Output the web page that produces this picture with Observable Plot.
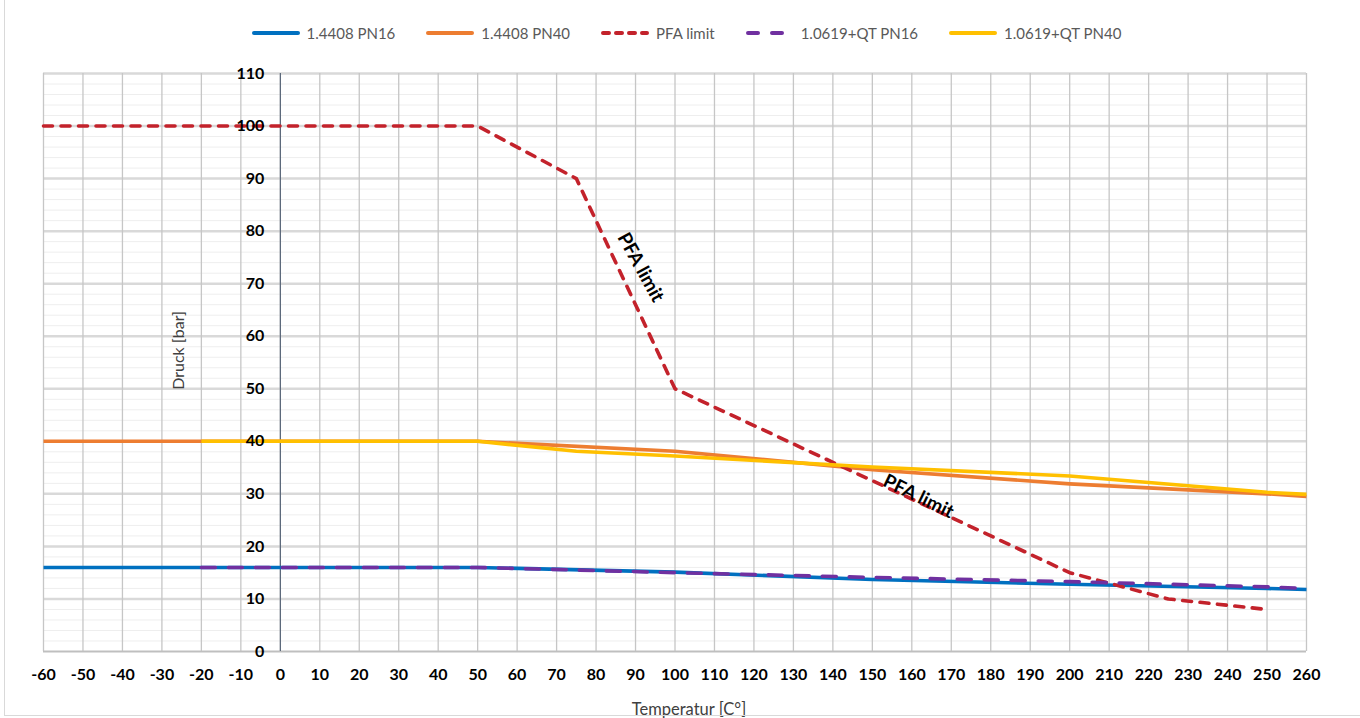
<!DOCTYPE html>
<html>
<head>
<meta charset="utf-8">
<script src="https://cdn.jsdelivr.net/npm/d3@7"></script>
<script src="https://cdn.jsdelivr.net/npm/@observablehq/plot@0.6"></script>
<style>
  html, body { margin: 0; padding: 0; background: #fff; }
  body { width: 1360px; height: 718px; overflow: hidden; position: relative; font-family: Lato, "Open Sans", sans-serif; }
  #frame { position: absolute; left: 4px; top: -2px; width: 1360px; height: 718px; border: 1px solid #d9d9d9; box-sizing: border-box; pointer-events: none; }
  #legend { height: 60px; display: flex; justify-content: center; align-items: center; padding-left: 12px; padding-top: 6px; box-sizing: border-box; }
  .item { display: flex; align-items: center; margin: 0 15px; color: #595959; font-size: 15px; }
  .item svg { margin-right: 6px; }
  #chart svg text { font-family: Lato, sans-serif; }
  #chart [aria-label="x-axis tick label"] text { font-weight: bold; }
</style>
</head>
<body>
<div id="frame"></div>
<div id="legend"></div>
<div id="chart"></div>
<script>
// ---- data ----
const xTicks = [-60,-50,-40,-30,-20,-10,0,10,20,30,40,50,60,70,80,90,100,110,120,130,140,150,160,170,180,190,200,210,220,230,240,250,260];
const yTicks = [0,10,20,30,40,50,60,70,80,90,100,110];
const yMinorTicks = d3.range(0, 111, 2);

const pn16_14408_T = [-60, 50, 100, 150, 200, 250, 260];
const pn16_14408_P = [16, 16, 15.1, 13.7, 12.8, 12.0, 11.8];

const pn40_14408_T = [-60, 50, 100, 150, 200, 250, 260];
const pn40_14408_P = [40, 40, 38.1, 34.6, 31.9, 30.0, 29.5];

const pfa_T = [-60, 50, 75, 100, 200, 225, 250];
const pfa_P = [100, 100, 90, 50, 15, 10, 8];

const pn16_10619_T = [-20, 50, 100, 150, 200, 250, 260];
const pn16_10619_P = [16, 16, 15.0, 14.1, 13.3, 12.3, 12.0];

const pn40_10619_T = [-20, 50, 75, 100, 150, 200, 250, 260];
const pn40_10619_P = [40, 40, 38.1, 37.2, 35.1, 33.4, 30.3, 29.9];

const seriesNames = ["1.4408 PN16", "1.4408 PN40", "PFA limit", "1.0619+QT PN16", "1.0619+QT PN40"];
const seriesColors = ["#0070c0", "#ed7d31", "#c3222b", "#7030a0", "#ffc000"];
const seriesDash = [null, null, "9,8.5", "14,13", null];

const pfaLabelText = ["PFA limit", "PFA limit"];
const pfaLabelT = [91.3, 161.7];
const pfaLabelP = [73.1, 29.5];
const pfaLabelAngle = [61, 26];

// ---- build ----
const zip = (T, P) => T.map((t, i) => ({t, p: P[i]}));
const series = [
  zip(pn16_14408_T, pn16_14408_P),
  zip(pn40_14408_T, pn40_14408_P),
  zip(pfa_T, pfa_P),
  zip(pn16_10619_T, pn16_10619_P),
  zip(pn40_10619_T, pn40_10619_P)
];
const pfaLabels = pfaLabelText.map((s, i) => ({s, t: pfaLabelT[i], p: pfaLabelP[i], a: pfaLabelAngle[i]}));

// legend
const legend = document.getElementById("legend");
seriesNames.forEach((name, i) => {
  const it = document.createElement("div");
  it.className = "item";
  const dash = seriesDash[i] ? (i === 2 ? 'stroke-dasharray="6,7"' : 'stroke-dasharray="10,14"') : "";
  it.innerHTML = `<svg width="50" height="10"><line x1="3" y1="5" x2="47" y2="5" stroke="${seriesColors[i]}" stroke-width="4" stroke-linecap="round" ${dash}/></svg><span>${name}</span>`;
  legend.appendChild(it);
});

const lineMarks = series.map((d, i) => Plot.line(d, {
  x: "t", y: "p",
  stroke: seriesColors[i],
  strokeWidth: 3.6,
  strokeLinejoin: "round",
  strokeLinecap: seriesDash[i] ? "round" : "butt",
  strokeDasharray: seriesDash[i] || undefined
}));

const chart = Plot.plot({
  width: 1360,
  height: 658,
  marginLeft: 43,
  marginRight: 54,
  marginTop: 13,
  marginBottom: 67,
  x: {domain: [-60, 260], label: null},
  y: {domain: [0, 110], axis: null, label: null},
  style: {background: "transparent", color: "#000"},
  marks: [
    Plot.ruleY(yMinorTicks, {stroke: "#eeeeee", strokeWidth: 1}),
    Plot.ruleY(yTicks.filter(d => d > 0), {stroke: "#d9d9d9", strokeWidth: 2.5}),
    Plot.ruleX(xTicks, {stroke: "#c6c6c6", strokeWidth: 1.3}),
    Plot.ruleY([0], {stroke: "#bfbfbf", strokeWidth: 2}),
    Plot.ruleX([0], {stroke: "#44546a", strokeWidth: 1}),
    ...lineMarks,
    Plot.text(yTicks, {x: 0, y: d => d, text: d => String(d), textAnchor: "end", dx: -16, fontSize: 16, fontWeight: "bold", fill: "#000"}),
    Plot.axisX({ticks: xTicks, tickSize: 0, tickPadding: 17, fontSize: 16, fontWeight: "bold", tickFormat: d => String(d)}),
    Plot.text(pfaLabels, {x: "t", y: "p", text: "s", rotate: "a", fontSize: 19, fontWeight: "bold", fill: "#000"}),
    Plot.text(["Druck [bar]"], {x: -25.8, y: 57.3, rotate: -90, fontSize: 16, fill: "#404040"}),
    Plot.text(["Temperatur [C°]"], {frameAnchor: "bottom", dy: 63, dx: 14, fontSize: 16.5, fill: "#404040"})
  ]
});
document.getElementById("chart").appendChild(chart);
</script>
</body>
</html>
